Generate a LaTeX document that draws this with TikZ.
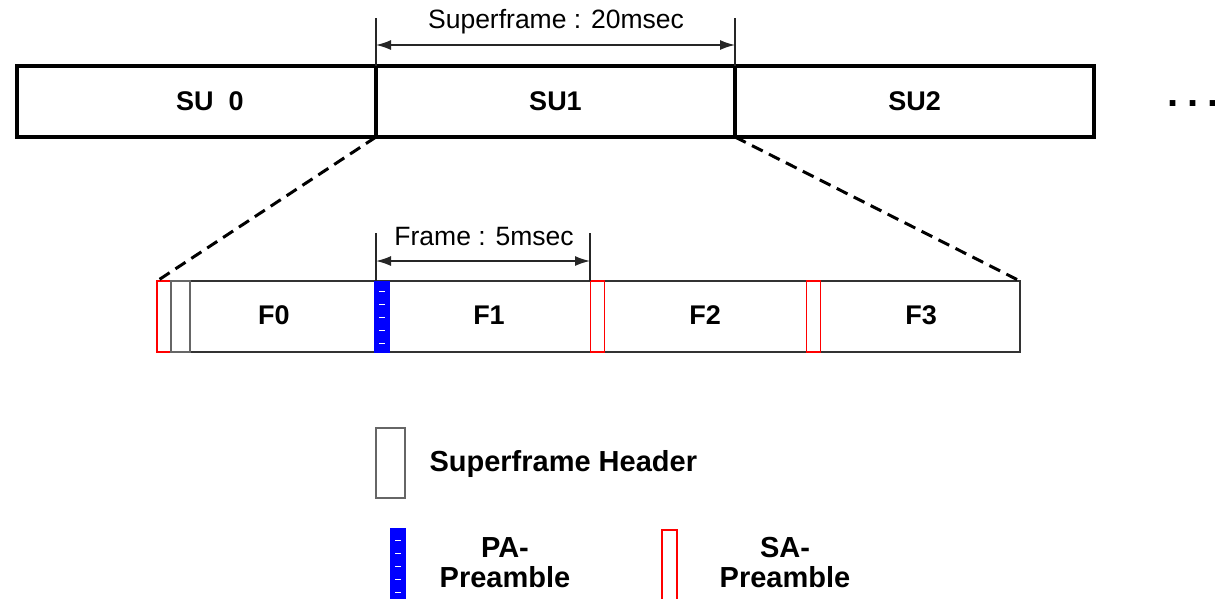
\documentclass[tikz,border=0pt]{standalone}
\usepackage{fontspec}
\setmainfont{Liberation Sans}
\usetikzlibrary{arrows.meta}

\tikzset{
  subox/.style={draw, line width=3.5pt, minimum width=359pt, minimum height=71pt,
    inner sep=0pt, outer sep=0pt, font=\bfseries\fontsize{27}{30}\selectfont},
  framebar/.style={draw=black!80, line width=1.6pt, minimum width=863pt,
    minimum height=71pt, inner sep=0pt, outer sep=0pt},
  flabel/.style={font=\bfseries\fontsize{27}{30}\selectfont},
  hdrbox/.style={draw=black!60, line width=1.4pt, minimum width=19pt,
    minimum height=71pt, inner sep=0pt},
  sabox/.style={draw=red, line width=1.4pt, fill=white, minimum width=14pt,
    minimum height=71pt, inner sep=0pt},
  pabox/.style={draw=blue, line width=1pt, fill=blue, minimum width=15pt,
    minimum height=71pt, inner sep=0pt},
  dimtext/.style={font=\fontsize{26.5}{30}\selectfont},
  legtext/.style={font=\bfseries\fontsize{29}{30}\selectfont, align=center},
  dimline/.style={black!85, line width=1.5pt, {Latex[length=15pt,width=10pt]}-{Latex[length=15pt,width=10pt]}},
  tick/.style={black!85, line width=1.2pt},
  zoomline/.style={line width=3pt, dash pattern=on 12pt off 7pt}
}

\begin{document}
\begin{tikzpicture}[x=1pt, y=-1pt]

\useasboundingbox (0,0) rectangle (1215,598);

% ---------- Superframes ----------
\node[subox] (su0) at (196.5,101.5) {};
\node[flabel] (su0text) at (210,101) {SU\ \ 0};
\node[subox] (su1) at (555.5,101.5) {SU1};
\node[subox] (su2) at (914.5,101.5) {SU2};
\node[font=\bfseries\fontsize{40}{40}\selectfont, anchor=base] (more) at (1193,106) {.\hspace{9pt}.\hspace{9pt}.};

% ---------- Superframe : 20msec ----------
\coordinate (sftl) at (376,18);
\coordinate (sftr) at (735,18);
\coordinate (sfa) at (376,45);
\coordinate (sfb) at (735,45);
\draw[tick] (su1.north west) -- (sftl);
\draw[tick] (su1.north east) -- (sftr);
\draw[dimline] (sfa) -- (sfb);
\node[dimtext] (sflabel) at (556,22) {Superframe : 20msec};

% ---------- Ramki ----------
\node[framebar] (frames) at (588.5,316.5) {};
\node[flabel] (f0) at (274,315) {F0};
\node[flabel] (f1) at (489,315) {F1};
\node[flabel] (f2) at (705,315) {F2};
\node[flabel] (f3) at (921,315) {F3};

% preambuly i naglowek
\node[sabox] (sa0) at (164,316.5) {};
\node[hdrbox] (hdr) at (180.5,316.5) {};
\node[pabox] (pa1) at (381.5,316.5) {};
\node[sabox] (sa2) at (597.5,316.5) {};
\node[sabox] (sa3) at (813.5,316.5) {};
\foreach \yy in {291,304,317,330,343} {
  \draw[white, line width=0.6pt] (379,\yy) -- (385,\yy);
}

% ---------- Linie powiekszenia ----------
\draw[zoomline] (su1.south west) -- (frames.north west);
\draw[zoomline] (su1.south east) -- (frames.north east);

% ---------- Frame : 5msec ----------
\coordinate (ftl) at (376,233);
\coordinate (fbl) at (376,281);
\coordinate (ftr) at (590,233);
\coordinate (fbr) at (590,281);
\coordinate (fa) at (376,261);
\coordinate (fb) at (590,261);
\draw[tick] (fbl) -- (ftl);
\draw[tick] (fbr) -- (ftr);
\draw[dimline] (fa) -- (fb);
\node[dimtext] (flabel) at (484,237) {Frame : 5msec};

% ---------- Legenda ----------
\node[hdrbox, minimum width=29pt, minimum height=70pt] (lhdr) at (390.5,463) {};
\node[legtext, anchor=west] (lhdrtext) at (426,464) {Superframe Header};
\node[pabox, minimum height=74pt] (lpa) at (397.5,565) {};
\foreach \yy in {540,553,566,579,592} {
  \draw[white, line width=0.6pt] (395,\yy) -- (401,\yy);
}
\node[legtext] (lpatext) at (505,563) {PA-\\Preamble};
\node[sabox, minimum width=15pt, minimum height=72pt] (lsa) at (669.5,566) {};
\node[legtext] (lsatext) at (785,563) {SA-\\Preamble};

\end{tikzpicture}
\end{document}
